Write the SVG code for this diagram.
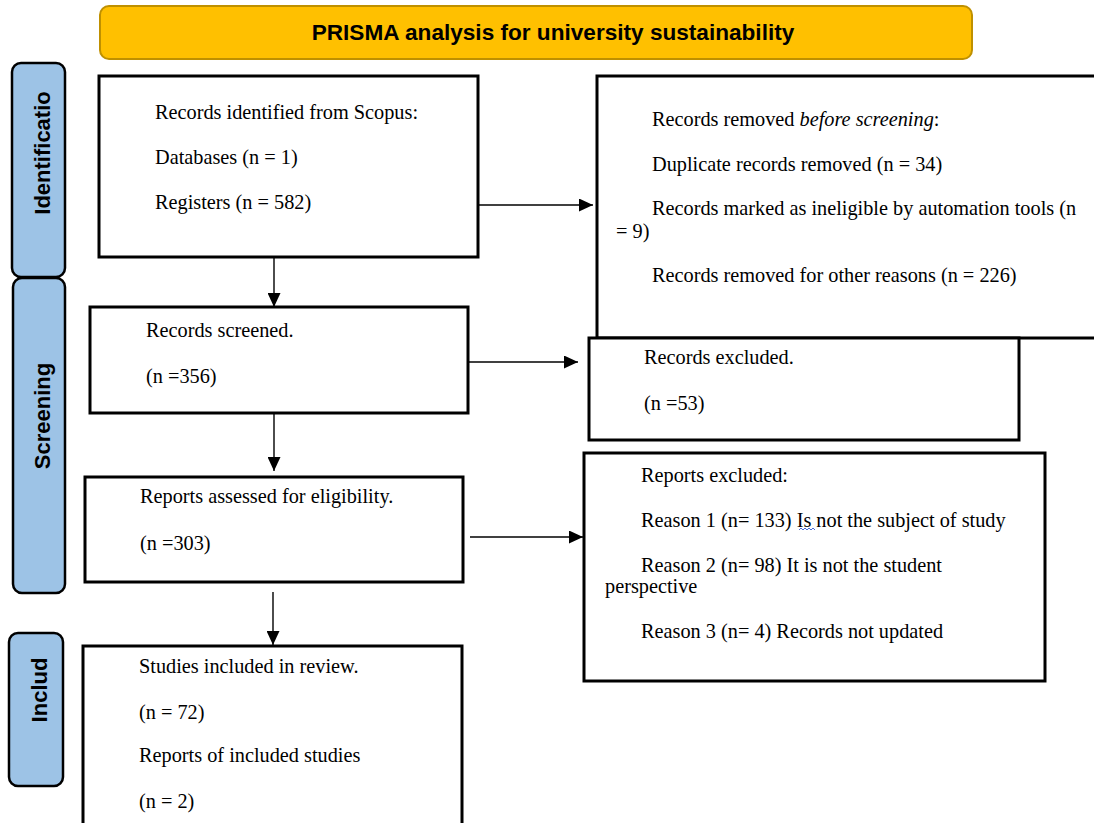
<svg xmlns="http://www.w3.org/2000/svg" width="1094" height="823" viewBox="0 0 1094 823">
<defs>
<style>
.box{fill:#fff;stroke:#000;stroke-width:3}
.lab{fill:#9DC3E6;stroke:#000;stroke-width:2.5}
.t{font-family:"Liberation Serif","Times New Roman",serif;font-size:20.3px;fill:#000}
.lt{font-family:"Liberation Sans",Arial,sans-serif;font-size:22px;font-weight:bold;fill:#000;text-anchor:middle}
.c{stroke:#000;stroke-width:1.4;fill:none}
</style>
<marker id="ah" markerUnits="userSpaceOnUse" markerWidth="15" markerHeight="13" refX="14" refY="6.5" orient="auto">
<path d="M0,0 L14,6.5 L0,13 z" fill="#000"/>
</marker>
</defs>
<rect width="1094" height="823" fill="#fff"/>

<g id="title">
<rect x="100" y="6" width="872" height="53" rx="9" fill="#FFC000" stroke="#BF9000" stroke-width="2"/>
<text x="553" y="40" font-family="'Liberation Sans',Arial,sans-serif" font-size="22.6" font-weight="bold" text-anchor="middle">PRISMA analysis for university sustainability</text>
</g>

<g id="label-identification">
<rect class="lab" x="12" y="63" width="53" height="214" rx="9"/>
<text class="lt" transform="translate(49.5,153) rotate(-90)" font-size="22.8">Identificatio</text>
</g>
<g id="label-screening">
<rect class="lab" x="13" y="278" width="52" height="315" rx="9"/>
<text class="lt" transform="translate(49.5,416) rotate(-90)">Screening</text>
</g>
<g id="label-included">
<rect class="lab" x="9" y="633" width="54" height="153" rx="9"/>
<text class="lt" transform="translate(46.5,690) rotate(-90)">Includ</text>
</g>

<g id="identified">
<rect class="box" x="99" y="76" width="379" height="181"/>
<text class="t" x="155" y="119">Records identified from Scopus:</text>
<text class="t" x="155" y="164">Databases (n = 1)</text>
<text class="t" x="155" y="209">Registers (n = 582)</text>
</g>

<g id="removed">
<rect class="box" x="597" y="76" width="510" height="262"/>
<text class="t" x="652" y="126">Records removed <tspan font-style="italic">before screening</tspan>:</text>
<text class="t" x="652" y="171">Duplicate records removed (n = 34)</text>
<text class="t" x="652" y="215">Records marked as ineligible by automation tools (n</text>
<text class="t" x="616" y="238">= 9)</text>
<text class="t" x="652" y="282">Records removed for other reasons (n = 226)</text>
</g>

<g id="screened">
<rect class="box" x="90" y="307" width="378" height="106"/>
<text class="t" x="146" y="337">Records screened.</text>
<text class="t" x="146" y="383">(n =356)</text>
</g>

<g id="excluded">
<rect class="box" x="589" y="338" width="430" height="102"/>
<text class="t" x="644" y="364">Records excluded.</text>
<text class="t" x="644" y="410">(n =53)</text>
</g>

<g id="assessed">
<rect class="box" x="85" y="477" width="378" height="105"/>
<text class="t" x="140" y="503">Reports assessed for eligibility.</text>
<text class="t" x="140" y="550">(n =303)</text>
</g>

<g id="reports-excluded">
<rect class="box" x="584" y="453" width="461" height="228"/>
<text class="t" x="641" y="482">Reports excluded:</text>
<text class="t" x="641" y="527">Reason 1 (n= 133) Is not the subject of study</text>
<path d="M799,530 l2,-2 l2,2 l2,-2 l2,2 l2,-2 l2,2 l2,-2 l2,2" fill="none" stroke="#4A6FD8" stroke-width="1"/>
<text class="t" x="641" y="572">Reason 2 (n= 98) It is not the student</text>
<text class="t" x="605" y="593">perspective</text>
<text class="t" x="641" y="638">Reason 3 (n= 4) Records not updated</text>
</g>

<g id="included">
<rect class="box" x="83" y="646" width="379" height="190"/>
<text class="t" x="139" y="673">Studies included in review.</text>
<text class="t" x="139" y="719">(n = 72)</text>
<text class="t" x="139" y="762">Reports of included studies</text>
<text class="t" x="139" y="808">(n = 2)</text>
</g>

<g id="connectors">
<line class="c" x1="274" y1="258" x2="274" y2="307" marker-end="url(#ah)"/>
<line class="c" x1="479" y1="205" x2="593" y2="205" marker-end="url(#ah)"/>
<line class="c" x1="274" y1="414" x2="274" y2="471" marker-end="url(#ah)"/>
<line class="c" x1="469" y1="362" x2="578" y2="362" marker-end="url(#ah)"/>
<line class="c" x1="470" y1="537" x2="583" y2="537" marker-end="url(#ah)"/>
<line class="c" x1="273" y1="592" x2="273" y2="645" marker-end="url(#ah)"/>
</g>
</svg>
